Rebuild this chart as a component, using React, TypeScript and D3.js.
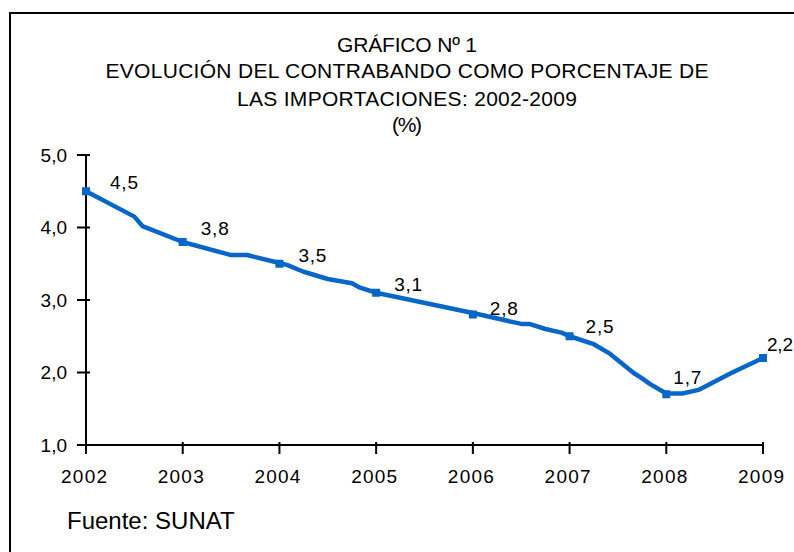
import * as d3 from "d3";
import React from "react";

const width = 794;
const height = 552;

// month index from Jan 2002 (0) to Jan 2009 (84)
const months = [0, 6, 7, 12, 18, 20, 24, 25, 27, 30, 33, 34, 36, 48, 54, 55, 57, 59, 60, 63, 65, 68, 69, 70, 72, 74, 76, 80, 81.5, 84];
const values = [4.5, 4.15, 4.02, 3.8, 3.62, 3.62, 3.51, 3.48, 3.39, 3.29, 3.23, 3.17, 3.1, 2.82, 2.67, 2.67, 2.6, 2.55, 2.5, 2.39, 2.26, 1.99, 1.92, 1.84, 1.71, 1.71, 1.76, 1.99, 2.07, 2.2];

const years = ["2002", "2003", "2004", "2005", "2006", "2007", "2008", "2009"];
const yearValues = [4.5, 3.8, 3.5, 3.1, 2.8, 2.5, 1.7, 2.2];
const yTicks = [1, 2, 3, 4, 5];

const titleLines = [
  "GRÁFICO Nº 1",
  "EVOLUCIÓN DEL CONTRABANDO COMO PORCENTAJE DE",
  "LAS IMPORTACIONES: 2002-2009",
  "(%)",
];

// layout
const plot = { left: 86, right: 763, top: 155, bottom: 445 };
const titleLayout = [
  { y: 52, w: 140 },
  { y: 78, w: 603 },
  { y: 106, w: 340 },
  { y: 132, w: 30 },
];
// label nudges [dx, dy] relative to marker (start / baseline)
const labelNudge = [
  [24, -2],
  [18, -7],
  [19, -2],
  [18, -2],
  [17, 0],
  [16, -3],
  [7, -10],
  [4, -7],
];

const blue = "#0866c8";
const font = "Arial, 'Liberation Sans', sans-serif";
const fmt = (d: number) => d3.format(".1f")(d).replace(".", ",");

const App = () => {
  const x = d3.scaleLinear().domain([0, 84]).range([plot.left, plot.right]);
  const y = d3.scaleLinear().domain([1, 5]).range([plot.bottom, plot.top]);

  const line = d3
    .line<number>()
    .x((_, i) => x(months[i]))
    .y((d) => y(d));

  return (
    <svg
      width={width}
      height={height}
      style={{ position: "absolute", left: 0, top: 0, background: "#fff" }}
      fontFamily={font}
    >
      <rect x={10} y={13} width={800} height={560} fill="#fff" stroke="#000" strokeWidth={2} />

      {titleLines.map((t, i) => (
        <text
          key={t}
          x={407}
          y={titleLayout[i].y}
          fontSize={21}
          textAnchor="middle"
          textLength={titleLayout[i].w}
          lengthAdjust="spacing"
          fill="#000"
        >
          {t}
        </text>
      ))}

      {/* y axis */}
      <line x1={plot.left} x2={plot.left} y1={plot.top} y2={plot.bottom} stroke="#000" strokeWidth={2} />
      {yTicks.map((t) => (
        <g key={t} transform={`translate(0,${y(t)})`}>
          <line x1={plot.left - 9} x2={plot.left + 4} stroke="#000" strokeWidth={2} />
          <text x={67} dy="0.35em" fontSize={19} textAnchor="end">
            {fmt(t)}
          </text>
        </g>
      ))}

      {/* x axis */}
      <line x1={plot.left} x2={plot.right} y1={plot.bottom} y2={plot.bottom} stroke="#000" strokeWidth={2} />
      {years.map((yr, i) => (
        <g key={yr} transform={`translate(${x(i * 12)},0)`}>
          <line y1={plot.bottom - 3} y2={plot.bottom + 9} stroke="#000" strokeWidth={2} />
          <text x={-2} y={483} fontSize={19} textAnchor="middle" textLength={46} lengthAdjust="spacing">
            {yr}
          </text>
        </g>
      ))}

      <path d={line(values) || ""} fill="none" stroke={blue} strokeWidth={4.5} strokeLinejoin="round" strokeLinecap="round" />

      {yearValues.map((v, i) => (
        <g key={i}>
          <rect x={x(i * 12) - 4} y={y(v) - 4} width={8} height={8} fill={blue} />
          <text
            x={x(i * 12) + labelNudge[i][0]}
            y={y(v) + labelNudge[i][1]}
            fontSize={19}
            textLength={i === yearValues.length - 1 ? 26 : 28}
            lengthAdjust="spacing"
            fill="#000"
          >
            {fmt(v)}
          </text>
        </g>
      ))}

      <text x={67} y={529} fontSize={24} fill="#000">
        Fuente: SUNAT
      </text>
    </svg>
  );
};

export default App;
